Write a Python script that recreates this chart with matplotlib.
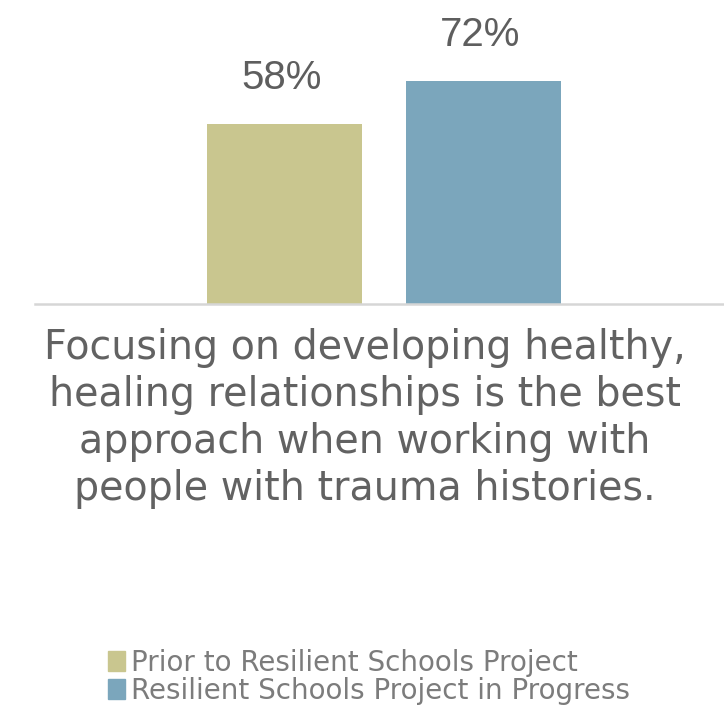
import matplotlib
matplotlib.use("Agg")
import matplotlib.pyplot as plt
from matplotlib.patches import Patch

# data
category = ("Focusing on developing healthy,\n"
            "healing relationships is the best\n"
            "approach when working with\n"
            "people with trauma histories.")
series = ["Prior to Resilient Schools Project",
          "Resilient Schools Project in Progress"]
values = [58, 72]
colors = ["#c9c68f", "#7ba6bc"]
offsets = [-0.5, 0.5]

plt.rcParams["font.family"] = ["Liberation Sans", "DejaVu Sans"]

fig = plt.figure(figsize=(7.24, 7.06), dpi=100)
ax = fig.add_axes([0.048, 0.569, 0.952, 0.431])

bars = ax.bar(offsets, values, width=0.78, color=colors, zorder=2)
for b, v in zip(bars, values):
    ax.annotate(f"{v}%", (b.get_x() + b.get_width() / 2, v), xytext=(-2, 33),
                textcoords="offset points", ha="center", va="center",
                fontsize=29, color="#5e5e5e")

ax.set_xlim(-1.758, 1.713)
ax.set_ylim(0, 98)
ax.set_yticks([])
ax.set_xticks([])
for s in ["top", "right", "left"]:
    ax.spines[s].set_visible(False)
ax.spines["bottom"].set_color("#d6d6d6")
ax.spines["bottom"].set_linewidth(1.8)

# category caption under the bars
fig.text(365 / 724, 1 - 328 / 706, category, ha="center", va="top",
         fontsize=28.5, family=["DejaVu Sans"], color="#626262", linespacing=1.23)

handles = [Patch(color=c, label=s) for c, s in zip(colors, series)]
leg = fig.legend(handles=handles, loc="lower left", bbox_to_anchor=(0.149, 0.002),
                 frameon=False, borderpad=0, borderaxespad=0,
                 handlelength=0.6, handleheight=0.7,
                 handletextpad=0.25, labelspacing=0.0,
                 prop={"family": ["DejaVu Sans"], "size": 20})
for t in leg.get_texts():
    t.set_color("#7c7c7c")

fig.savefig("out.png", dpi=100)
